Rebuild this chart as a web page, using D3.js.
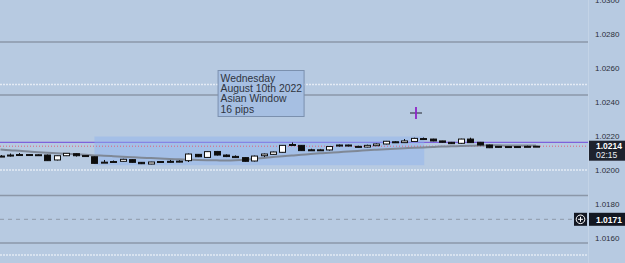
<html>
<script src="https://d3js.org/d3.v7.min.js"></script>
<style>
    body { margin: 0; background: #b7cae1; overflow: hidden; }
    text { font-family: "Liberation Sans", Arial, sans-serif; }
    .axis text { fill: #2b2f3a; font-size: 8px; }
</style>
<body>
<svg id="chart"></svg>
<script>
    // candles (EUR/USD 15m)
    var opens  = [1.02082, 1.02088, 1.02091, 1.02091, 1.02090, 1.02088, 1.02059, 1.02084, 1.02096, 1.02085,
                  1.02078, 1.02044, 1.02048, 1.02051, 1.02061, 1.02045, 1.02035, 1.02050, 1.02051, 1.02051,
                  1.02055, 1.02092, 1.02074, 1.02109, 1.02088, 1.02080, 1.02073, 1.02053, 1.02084, 1.02092,
                  1.02104, 1.02150, 1.02145, 1.02119, 1.02118, 1.02118, 1.02141, 1.02147, 1.02139, 1.02135,
                  1.02143, 1.02153, 1.02166, 1.02161, 1.02168, 1.02185, 1.02182, 1.02171, 1.02163, 1.02157,
                  1.02182, 1.02163, 1.02147, 1.02139, 1.02137, 1.02138, 1.02138, 1.02138];
    var highs  = [1.02088, 1.02097, 1.02100, 1.02094, 1.02094, 1.02091, 1.02085, 1.02100, 1.02098, 1.02086,
                  1.02079, 1.02059, 1.02056, 1.02066, 1.02063, 1.02047, 1.02048, 1.02053, 1.02059, 1.02057,
                  1.02097, 1.02094, 1.02110, 1.02112, 1.02092, 1.02086, 1.02076, 1.02085, 1.02097, 1.02108,
                  1.02147, 1.02162, 1.02147, 1.02125, 1.02124, 1.02141, 1.02150, 1.02149, 1.02143, 1.02149,
                  1.02156, 1.02171, 1.02169, 1.02182, 1.02190, 1.02191, 1.02184, 1.02172, 1.02165, 1.02184,
                  1.02190, 1.02165, 1.02149, 1.02141, 1.02141, 1.02141, 1.02143, 1.02142];
    var lows   = [1.02076, 1.02079, 1.02085, 1.02085, 1.02086, 1.02053, 1.02056, 1.02082, 1.02079, 1.02080,
                  1.02037, 1.02041, 1.02044, 1.02049, 1.02043, 1.02035, 1.02034, 1.02044, 1.02044, 1.02045,
                  1.02047, 1.02076, 1.02072, 1.02085, 1.02076, 1.02071, 1.02049, 1.02050, 1.02076, 1.02091,
                  1.02102, 1.02145, 1.02112, 1.02114, 1.02112, 1.02114, 1.02138, 1.02139, 1.02133, 1.02133,
                  1.02141, 1.02151, 1.02159, 1.02159, 1.02166, 1.02178, 1.02169, 1.02161, 1.02153, 1.02153,
                  1.02159, 1.02145, 1.02129, 1.02132, 1.02133, 1.02133, 1.02135, 1.02135];
    var closes = [1.02079, 1.02086, 1.02089, 1.02088, 1.02090, 1.02055, 1.02084, 1.02098, 1.02084, 1.02082,
                  1.02039, 1.02046, 1.02050, 1.02063, 1.02045, 1.02037, 1.02047, 1.02047, 1.02050, 1.02052,
                  1.02094, 1.02078, 1.02108, 1.02088, 1.02079, 1.02073, 1.02051, 1.02082, 1.02094, 1.02106,
                  1.02145, 1.02147, 1.02114, 1.02118, 1.02119, 1.02138, 1.02147, 1.02141, 1.02137, 1.02145,
                  1.02153, 1.02169, 1.02161, 1.02171, 1.02186, 1.02181, 1.02171, 1.02163, 1.02155, 1.02182,
                  1.02161, 1.02147, 1.02131, 1.02135, 1.02138, 1.02135, 1.02139, 1.02140];
    // moving average
    var maValues = [1.02121, 1.02116, 1.02113, 1.02109, 1.02105, 1.02102, 1.02098, 1.02095, 1.02092, 1.02089,
                    1.02086, 1.02084, 1.02081, 1.02078, 1.02075, 1.02072, 1.02070, 1.02068, 1.02065, 1.02063,
                    1.02061, 1.02059, 1.02058, 1.02057, 1.02056, 1.02057, 1.02060, 1.02066, 1.02071, 1.02076,
                    1.02081, 1.02085, 1.02089, 1.02094, 1.02098, 1.02102, 1.02105, 1.02109, 1.02112, 1.02116,
                    1.02119, 1.02122, 1.02125, 1.02128, 1.02131, 1.02133, 1.02135, 1.02138, 1.02139, 1.02141,
                    1.02143, 1.02144, 1.02145, 1.02145, 1.02144, 1.02144, 1.02144, 1.02144];

    var priceTicks = [1.0300, 1.0280, 1.0260, 1.0240, 1.0220, 1.0200, 1.0180, 1.0160];
    var solidLevels = [1.02753, 1.02441, 1.01850, 1.01571];
    var dottedLevels = [1.02503, 1.02000, 1.01500];
    var purpleLevel = 1.02162;
    var lastPrice = 1.0214;
    var countdown = "02:15";
    var alertLevel = 1.0171;
    var windowStart = 10, windowEnd = 45;
    var noteLines = ["Wednesday", "August 10th 2022", "Asian Window", "16 pips"];

    var width = 625, height = 263, plotRight = 588;

    var svg = d3.select("#chart")
        .attr("width", width)
        .attr("height", height);

    svg.append("rect")
        .attr("width", width).attr("height", height)
        .attr("fill", "#b7cae1");

    var y = d3.scaleLinear()
        .domain([1.0160, 1.0300])
        .range([238, 0]);

    var x = d3.scaleLinear()
        .domain([0, opens.length - 1])
        .range([0.5, 536]);

    var candles = opens.map(function (o, i) {
        return { i: i, open: o, high: highs[i], low: lows[i], close: closes[i] };
    });

    // horizontal levels
    var levels = svg.append("g");
    levels.selectAll(".solid")
        .data(solidLevels)
        .enter().append("line")
        .attr("x1", 0).attr("x2", plotRight)
        .attr("y1", d => y(d)).attr("y2", d => y(d))
        .attr("stroke", "#8b97a8")
        .attr("stroke-width", 1.6);

    levels.selectAll(".dotted")
        .data(dottedLevels)
        .enter().append("line")
        .attr("x1", 0).attr("x2", plotRight)
        .attr("y1", d => y(d)).attr("y2", d => y(d))
        .attr("stroke", "#e4ebf5")
        .attr("stroke-width", 1.5)
        .attr("stroke-dasharray", "2,1");

    levels.append("line")
        .attr("x1", 0).attr("x2", plotRight)
        .attr("y1", y(alertLevel)).attr("y2", y(alertLevel))
        .attr("stroke", "#8e99a9")
        .attr("stroke-width", 1)
        .attr("stroke-dasharray", "4,4");

    // asian window box
    var winHigh = d3.max(highs.slice(windowStart, windowEnd + 1));
    var winLow = d3.min(lows.slice(windowStart, windowEnd + 1));
    svg.append("rect")
        .attr("x", x(windowStart))
        .attr("y", y(winHigh) - 1)
        .attr("width", x(windowEnd) - x(windowStart) + 1)
        .attr("height", y(winLow) - y(winHigh) + 2)
        .attr("fill", "#8db2ef")
        .attr("opacity", 0.45);

    levels.append("line")
        .attr("x1", 0).attr("x2", plotRight)
        .attr("y1", y(purpleLevel)).attr("y2", y(purpleLevel))
        .attr("stroke", "#7d62dc")
        .attr("stroke-width", 1.2);

    svg.append("line")
        .attr("x1", 0).attr("x2", plotRight)
        .attr("y1", y(lastPrice)).attr("y2", y(lastPrice))
        .attr("stroke", "#e0607a")
        .attr("stroke-width", 1)
        .attr("stroke-dasharray", "1,2");

    // moving average
    svg.append("path")
        .datum(maValues)
        .attr("fill", "none")
        .attr("stroke", "#7f8896")
        .attr("stroke-width", 2)
        .attr("d", d3.line()
            .x(function (d, i) { return x(i) })
            .y(function (d) { return y(d) })
            .curve(d3.curveMonotoneX));

    // candles
    var bodyW = 7;
    var cg = svg.append("g").selectAll("g")
        .data(candles)
        .enter().append("g");

    cg.append("line")
        .attr("x1", d => Math.round(x(d.i)) + 0.5)
        .attr("x2", d => Math.round(x(d.i)) + 0.5)
        .attr("y1", d => y(d.high))
        .attr("y2", d => y(d.low))
        .attr("stroke", "#111")
        .attr("stroke-width", 1);

    cg.append("rect")
        .attr("x", d => Math.round(x(d.i)) - bodyW / 2 + 1)
        .attr("y", d => y(Math.max(d.open, d.close)))
        .attr("width", bodyW - 1)
        .attr("height", d => Math.max(1, Math.abs(y(d.open) - y(d.close))))
        .attr("fill", d => d.close >= d.open ? "#ffffff" : "#0c0c0c")
        .attr("stroke", "#111")
        .attr("stroke-width", 1);

    // note
    var note = svg.append("g")
        .attr("transform", "translate(" + (x(23) + 1) + "," + 70 + ")");
    note.append("rect")
        .attr("x", 0.5).attr("y", 0.5)
        .attr("width", 86).attr("height", 46)
        .attr("fill", "#a6bfe2")
        .attr("stroke", "#7b90ae")
        .attr("stroke-width", 1);
    note.selectAll("text")
        .data(noteLines)
        .enter().append("text")
        .attr("x", 3)
        .attr("y", (d, i) => 12 + i * 10.2)
        .attr("fill", "#2e3440")
        .style("font-size", "10.4px")
        .text(d => d);

    // cursor cross
    var cx = 416, cy = 113;
    svg.append("line")
        .attr("x1", cx - 6).attr("x2", cx + 6)
        .attr("y1", cy).attr("y2", cy)
        .attr("stroke", "#3a3f4b").attr("stroke-width", 1.2);
    svg.append("line")
        .attr("x1", cx).attr("x2", cx)
        .attr("y1", cy - 6).attr("y2", cy + 6)
        .attr("stroke", "#8e24c8").attr("stroke-width", 1.8);

    // price axis
    svg.append("line")
        .attr("x1", plotRight + 0.5).attr("x2", plotRight + 0.5)
        .attr("y1", 0).attr("y2", height)
        .attr("stroke", "#c3d3e6").attr("stroke-width", 1);

    svg.append("g")
        .attr("class", "axis")
        .attr("transform", "translate(" + plotRight + ",0)")
        .call(d3.axisRight(y).tickValues(priceTicks).tickFormat(d3.format(".4f")).tickSize(0).tickPadding(7))
        .call(g => g.select(".domain").remove());

    // last price tag
    var tag = svg.append("g")
        .attr("transform", "translate(" + (plotRight + 1) + "," + (y(lastPrice) - 5.5) + ")");
    tag.append("rect")
        .attr("width", 36).attr("height", 20)
        .attr("fill", "#1e222d");
    tag.append("text")
        .attr("x", 7).attr("y", 8.5)
        .attr("fill", "#ffffff")
        .style("font-size", "8.5px").style("font-weight", "bold")
        .text(d3.format(".4f")(lastPrice));
    tag.append("text")
        .attr("x", 7).attr("y", 17.5)
        .attr("fill", "#e8ecf2")
        .style("font-size", "8.5px")
        .text(countdown);

    // alert tag
    var alert = svg.append("g")
        .attr("transform", "translate(0," + y(alertLevel) + ")");
    alert.append("rect")
        .attr("x", plotRight + 1).attr("y", -6.5)
        .attr("width", 36).attr("height", 13)
        .attr("fill", "#131722");
    alert.append("text")
        .attr("x", plotRight + 8).attr("y", 3.2)
        .attr("fill", "#ffffff")
        .style("font-size", "8.5px").style("font-weight", "bold")
        .text(d3.format(".4f")(alertLevel));
    alert.append("rect")
        .attr("x", plotRight - 14).attr("y", -6.5)
        .attr("width", 13).attr("height", 13)
        .attr("fill", "#131722");
    alert.append("circle")
        .attr("cx", plotRight - 7.5).attr("cy", 0).attr("r", 4.3)
        .attr("fill", "none").attr("stroke", "#ffffff").attr("stroke-width", 1);
    alert.append("path")
        .attr("d", "M" + (plotRight - 10) + ",0H" + (plotRight - 5) + "M" + (plotRight - 7.5) + ",-2.5V2.5")
        .attr("stroke", "#ffffff").attr("stroke-width", 1);
</script>
</body>
</html>
